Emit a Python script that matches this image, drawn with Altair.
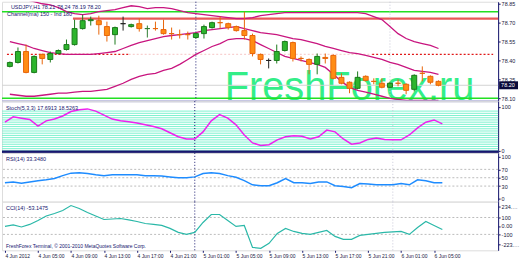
import json
import altair as alt
import pandas as pd

# ---------------- data ----------------
idx = list(range(54))
opens = [78.353, 78.384, 78.471, 78.305, 78.448, 78.408, 78.455, 78.487, 78.526, 78.653,
         78.716, 78.716, 78.669, 78.605, 78.692, 78.669, 78.692, 78.653, 78.653, 78.645,
         78.613, 78.605, 78.605, 78.582, 78.613, 78.661, 78.700, 78.692, 78.669, 78.637,
         78.598, 78.448, 78.400, 78.400, 78.479, 78.542, 78.416, 78.408, 78.369, 78.424,
         78.440, 78.266, 78.227, 78.179, 78.274, 78.234, 78.219, 78.187, 78.219, 78.211,
         78.171, 78.298, 78.274, 78.234]
highs = [78.392, 78.503, 78.526, 78.440, 78.455, 78.471, 78.487, 78.566, 78.724, 78.763,
         78.748, 78.755, 78.708, 78.669, 78.748, 78.692, 78.732, 78.677, 78.708, 78.724,
         78.661, 78.645, 78.629, 78.621, 78.684, 78.708, 78.748, 78.700, 78.677, 78.787,
         78.613, 78.455, 78.416, 78.526, 78.558, 78.550, 78.432, 78.416, 78.455, 78.455,
         78.448, 78.298, 78.234, 78.313, 78.282, 78.258, 78.258, 78.227, 78.250, 78.219,
         78.290, 78.353, 78.282, 78.242]
lows = [78.345, 78.376, 78.298, 78.298, 78.369, 78.384, 78.448, 78.479, 78.518, 78.645,
        78.677, 78.605, 78.550, 78.526, 78.637, 78.661, 78.629, 78.582, 78.637, 78.605,
        78.566, 78.574, 78.566, 78.574, 78.574, 78.653, 78.653, 78.645, 78.629, 78.566,
        78.432, 78.369, 78.337, 78.376, 78.471, 78.392, 78.392, 78.290, 78.290, 78.376,
        78.250, 78.211, 78.140, 78.171, 78.234, 78.211, 78.179, 78.179, 78.195, 78.132,
        78.155, 78.234, 78.211, 78.195]
closes = [78.384, 78.471, 78.305, 78.432, 78.416, 78.455, 78.479, 78.526, 78.653, 78.716,
          78.724, 78.684, 78.598, 78.661, 78.692, 78.684, 78.653, 78.653, 78.653, 78.613,
          78.613, 78.605, 78.605, 78.613, 78.669, 78.700, 78.700, 78.661, 78.637, 78.598,
          78.455, 78.408, 78.400, 78.471, 78.550, 78.416, 78.416, 78.369, 78.432, 78.416,
          78.258, 78.219, 78.179, 78.266, 78.242, 78.234, 78.187, 78.219, 78.219, 78.163,
          78.282, 78.298, 78.227, 78.203]
kinds = ["up", "up", "down", "up", "down", "up", "up", "up", "up", "up",
         "up", "down", "down", "up", "dark", "up", "down", "gcross", "down", "down",
         "down", "down", "down", "up", "up", "up", "down", "down", "down", "down",
         "down", "down", "dark", "up", "up", "down", "down", "down", "up", "down",
         "down", "down", "down", "up", "down", "down", "down", "up", "down", "down",
         "up", "down", "down", "down"]
upper = [78.929, 78.905, 78.882, 78.866, 78.850, 78.842, 78.819, 78.787, 78.771, 78.763,
         78.771, 78.787, 78.795, 78.803, 78.819, 78.834, 78.827, 78.811, 78.819, 78.819,
         78.811, 78.795, 78.779, 78.771, 78.763, 78.755, 78.748, 78.740, 78.732, 78.732,
         78.740, 78.755, 78.763, 78.771, 78.779, 78.779, 78.779, 78.779, 78.779, 78.779,
         78.779, 78.779, 78.779, 78.779, 78.771, 78.748, 78.724, 78.669, 78.613, 78.574,
         78.550, 78.534, 78.519, 78.495]
middle = [78.550, 78.534, 78.519, 78.495, 78.479, 78.463, 78.455, 78.448, 78.448, 78.448,
          78.448, 78.455, 78.463, 78.471, 78.495, 78.519, 78.542, 78.558, 78.574, 78.590,
          78.598, 78.605, 78.613, 78.621, 78.637, 78.645, 78.653, 78.661, 78.669, 78.653,
          78.637, 78.621, 78.613, 78.605, 78.590, 78.574, 78.566, 78.550, 78.534, 78.511,
          78.495, 78.479, 78.463, 78.455, 78.440, 78.424, 78.408, 78.384, 78.369, 78.345,
          78.321, 78.313, 78.305, 78.290]
lower = [78.132, 78.124, 78.116, 78.116, 78.124, 78.132, 78.140, 78.140, 78.148, 78.155,
         78.155, 78.163, 78.171, 78.195, 78.219, 78.250, 78.274, 78.290, 78.298, 78.321,
         78.337, 78.369, 78.408, 78.448, 78.479, 78.511, 78.534, 78.566, 78.574, 78.574,
         78.558, 78.526, 78.495, 78.463, 78.432, 78.416, 78.400, 78.384, 78.369, 78.345,
         78.290, 78.234, 78.187, 78.163, 78.148, 78.132, 78.116, 78.100, 78.092, 78.084,
         78.084, 78.084, 78.084, 78.084]
stoch = [65, 77, 74, 71, 56, 68, 72, 79, 89, 93,
         95, 90, 81, 72, 68, 66, 63, 59, 55, 50,
         41, 32, 27, 27, 43, 68, 82, 74, 59, 36,
         18, 12, 14, 25, 32, 34, 33, 27, 32, 47,
         43, 27, 15, 18, 26, 29, 26, 25, 25, 36,
         52, 65, 70, 61]
rsi = [38, 40, 37, 40, 43, 45, 48, 55, 61, 62,
       60, 57, 55, 57, 57, 57, 57, 55, 55, 54,
       52, 50, 50, 52, 60, 62, 60, 55, 51, 43,
       33, 31, 31, 38, 48, 38, 38, 36, 40, 40,
       31, 29, 26, 36, 35, 33, 33, 33, 36, 33,
       45, 43, 38, 38]
cci = [-6, 12, -12, 18, 65, 118, 147, 182, 241, 206,
       159, 118, 76, 82, 88, 71, 53, 29, 18, 6,
       -29, -76, -100, -76, 41, 135, 135, 65, -6, 6,
       -253, -265, -206, -88, -29, -65, -88, -100, -76, -53,
       -124, -159, -159, -112, -100, -88, -76, -71, -65, -100,
       -18, 53, 6, -41]

time_ticks = [0, 4, 8, 12, 16, 20, 24, 28, 32, 36, 40, 44, 48, 52]
time_labels = ["4 Jun 2012", "4 Jun 05:00", "4 Jun 09:00", "4 Jun 13:00", "4 Jun 17:00",
               "4 Jun 21:00", "5 Jun 01:00", "5 Jun 05:00", "5 Jun 09:00", "5 Jun 13:00",
               "5 Jun 17:00", "5 Jun 21:00", "6 Jun 01:00", "6 Jun 05:00"]
day_sep = [23]
day_sep2 = [47]

price_ticks = [78.10, 78.25, 78.40, 78.55, 78.70, 78.85]
green_levels = [78.787, 78.100]
red_level = [78.732]
red_level_start = [7.8]
dotted_level = [78.448]
dotted_start = [-0.36, 14.7, 44.8]
dotted_end = [14.7, 44.8, 59.76]
dotted_kind = ["strong", "faint", "strong"]
bid = [78.203]
bid_label = ["78.20"]
stoch_levels = [0, 5, 10, 15, 20, 25, 30, 35, 40, 45, 50, 55, 60, 65, 70, 75, 80, 85, 90]
stoch_ticks = [0, 100]
rsi_levels = [30, 50, 70]
rsi_ticks = [0, 30, 50, 70, 100]
cci_levels = [100, -100]
cci_ticks = [-223.0181, -100, 0, 100, 234.6845]

title_main = ["USDJPY,H1  78.21 78.24 78.19 78.20", "Channel(ma) 150 - Ind 180"]
title_stoch = ["Stoch(5,3,3) 17.6913 18.5263"]
title_rsi = ["RSI(14) 33.3480"]
title_cci = ["CCI(14) -53.1475"]
copyright_txt = ["FreshForex Terminal, © 2001-2010 MetaQuotes Software Corp."]
watermark = ["FreshForex.ru"]

# ---------------- style ----------------
W = 499
NAVY = "#16166E"
FONT = "Liberation Sans"

df = pd.DataFrame({"i": idx, "open": opens, "high": highs, "low": lows, "close": closes,
                   "kind": kinds, "upper": upper, "middle": middle, "lower": lower,
                   "stoch": stoch, "rsi": rsi, "cci": cci})

xscale = alt.Scale(domain=[-0.36, 59.76], nice=False, zero=False)
X = alt.X("i:Q", scale=xscale, axis=None)


def raxis(values, **kw):
    return alt.Axis(orient="right", values=values, labelFontSize=5.5, tickSize=2,
                    labelPadding=1, grid=False, title=None, domainColor=NAVY,
                    tickColor=NAVY, labelColor="#202040", labelOverlap=False,
                    labelFlush=False, labelLimit=19, **kw)


def separators(xenc):
    a = alt.Chart(pd.DataFrame({"i": day_sep})).mark_rule(
        color=NAVY, strokeDash=[1, 2], strokeWidth=1).encode(x=xenc)
    b = alt.Chart(pd.DataFrame({"i": day_sep2})).mark_rule(
        color="#C8C8D8", strokeDash=[1, 2], strokeWidth=1).encode(x=xenc)
    return [a, b]


def label(txt, xpx, ypx, size=5.5, color=NAVY):
    return alt.Chart(pd.DataFrame({"t": txt})).mark_text(
        align="left", baseline="middle", fontSize=size, color=color, font=FONT
    ).encode(x=alt.value(xpx), y=alt.value(ypx), text="t:N")


# ---------------- main panel ----------------
ys_main = alt.Scale(domain=[78.077, 78.866], nice=False, zero=False)
ax_main = raxis(price_ticks, format=".2f")

wm = alt.Chart(pd.DataFrame({"t": watermark})).mark_text(
    align="left", baseline="alphabetic", fontSize=40, font=FONT, color="#33EE88"
).encode(x=alt.value(224), y=alt.value(99), text="t:N")

bid_line = alt.Chart(pd.DataFrame({"p": bid})).mark_rule(color="#D4D4D4", strokeWidth=1).encode(
    y=alt.Y("p:Q", scale=ys_main, axis=ax_main))

dot_df = pd.DataFrame({"s": dotted_start, "e": dotted_end, "k": dotted_kind,
                       "p": dotted_level * 3})
dotted = alt.Chart(dot_df).mark_rule(strokeDash=[2, 2], strokeWidth=1.2).encode(
    x=alt.X("s:Q", scale=xscale, axis=None), x2="e:Q",
    y=alt.Y("p:Q", scale=ys_main, axis=ax_main),
    color=alt.Color("k:N", scale=alt.Scale(domain=["strong", "faint"],
                                           range=["#E01818", "#F8D0D0"]), legend=None))

greens = alt.Chart(pd.DataFrame({"p": green_levels})).mark_rule(
    color="#22E022", strokeWidth=1.6).encode(y=alt.Y("p:Q", scale=ys_main, axis=ax_main))

red = alt.Chart(pd.DataFrame({"p": red_level, "s": red_level_start})).mark_rule(
    color="#E85858", strokeWidth=2.2).encode(
    x=alt.X("s:Q", scale=xscale, axis=None), x2=alt.value(W),
    y=alt.Y("p:Q", scale=ys_main, axis=ax_main))

bands = alt.Chart(df).transform_fold(["upper", "middle", "lower"], as_=["band", "val"]).mark_line(
    color="#C8157F", strokeWidth=1.3, clip=True).encode(
    x=X, y=alt.Y("val:Q", scale=ys_main, axis=ax_main), detail="band:N")

kind_dom = ["up", "down", "gcross", "dark"]
fill_sc = alt.Scale(domain=kind_dom, range=["#2DB52D", "#FF8C14", "#2E7D32", "#222222"])
stroke_sc = alt.Scale(domain=kind_dom, range=["#1B7A1B", "#E8650A", "#2E7D32", "#222222"])

wicks = alt.Chart(df).mark_rule(strokeWidth=1, clip=True).encode(
    x=X, y=alt.Y("low:Q", scale=ys_main, axis=ax_main), y2="high:Q",
    stroke=alt.Stroke("kind:N", scale=stroke_sc, legend=None))
bodies = alt.Chart(df).mark_bar(size=5, strokeWidth=1, clip=True).encode(
    x=X, y=alt.Y("open:Q", scale=ys_main, axis=ax_main), y2="close:Q",
    fill=alt.Fill("kind:N", scale=fill_sc, legend=None),
    stroke=alt.Stroke("kind:N", scale=stroke_sc, legend=None))

bid_box = alt.Chart(pd.DataFrame({"p": bid, "t": bid_label})).mark_rect(
    color="#0A0A3A", clip=False, height=8, width=19).encode(
    x=alt.value(509.5), y=alt.Y("p:Q", scale=ys_main, axis=ax_main))
bid_txt = alt.Chart(pd.DataFrame({"p": bid, "t": bid_label})).mark_text(
    color="white", fontSize=5.5, font=FONT, align="left", baseline="middle").encode(
    x=alt.value(502), y=alt.Y("p:Q", scale=ys_main, axis=ax_main), text="t:N")

main_sep = alt.Chart(pd.DataFrame({"p": [0]})).mark_rule(color="#B4B4D8", strokeWidth=2).encode(
    x=alt.value(0), x2=alt.value(W), y=alt.value(100))

main = alt.layer(
    wm, bid_line, dotted, greens, red, *separators(X), bands, wicks, bodies,
    label(title_main[:1], 9, 5), label(title_main[1:], 5, 12), bid_box, bid_txt, main_sep
).properties(width=W, height=100)

# ---------------- stochastic panel ----------------
ys2 = alt.Scale(domain=[-4.5, 112.5], nice=False, zero=False)
ax2 = raxis(stoch_ticks, format="d")
lv2 = alt.Chart(pd.DataFrame({"v": stoch_levels})).mark_rule(color="#7CF2CF", strokeWidth=1).encode(
    y=alt.Y("v:Q", scale=ys2, axis=ax2))
st_line = alt.Chart(df).mark_line(color="#EE22EE", strokeWidth=1.5, clip=True).encode(
    x=X, y=alt.Y("stoch:Q", scale=ys2, axis=ax2))
thick = alt.Chart(pd.DataFrame({"p": [0]})).mark_rule(color=NAVY, strokeWidth=3).encode(
    x=alt.value(0), x2=alt.value(W), y=alt.value(51))
p2 = alt.layer(lv2, *separators(X), st_line, label(title_stoch, 4, 7), thick).properties(
    width=W, height=52)

# ---------------- RSI panel ----------------
ys3 = alt.Scale(domain=[-7.1, 109.5], nice=False, zero=False)
ax3 = raxis(rsi_ticks, format="d")
lv3 = alt.Chart(pd.DataFrame({"v": rsi_levels})).mark_rule(
    color="#BBBBBB", strokeDash=[2, 2], strokeWidth=1).encode(y=alt.Y("v:Q", scale=ys3, axis=ax3))
rsi_line = alt.Chart(df).mark_line(color="#1E8CFF", strokeWidth=1.5, clip=True).encode(
    x=X, y=alt.Y("rsi:Q", scale=ys3, axis=ax3))
p3 = alt.layer(lv3, *separators(X), rsi_line, label(title_rsi, 4, 6)).properties(
    width=W, height=49)

# ---------------- CCI panel ----------------
ys4 = alt.Scale(domain=[-288, 288], nice=False, zero=False)
ax4 = raxis(cci_ticks, labelExpr="datum.value == 0 ? '0.00' : toString(datum.value)")
x_axis = alt.Axis(values=time_ticks,
                  labelExpr=json.dumps(time_labels) + "[round(datum.value / 4)]",
                  labelAlign="left", labelFontSize=5, labelPadding=1, tickSize=2,
                  domain=False, labelFlush=False, labelOverlap=False, grid=False,
                  title=None, tickColor=NAVY, labelColor="#202040")
X4 = alt.X("i:Q", scale=xscale, axis=x_axis)
lv4 = alt.Chart(pd.DataFrame({"v": cci_levels})).mark_rule(
    color="#BBBBBB", strokeDash=[2, 2], strokeWidth=1).encode(y=alt.Y("v:Q", scale=ys4, axis=ax4))
cci_line = alt.Chart(df).mark_line(color="#2AB8A8", strokeWidth=1.2, clip=True).encode(
    x=X4, y=alt.Y("cci:Q", scale=ys4, axis=ax4))
p4 = alt.layer(lv4, *separators(X4), cci_line, label(title_cci, 4, 6),
               label(copyright_txt, 4, 45, size=5)).properties(width=W, height=49)

chart = alt.vconcat(main, p2, p3, p4, spacing=0, bounds="flush").properties(
    padding=0, background="white"
).configure_view(stroke=NAVY, strokeWidth=1).configure(font=FONT)

chart.save("out.html", embed_options={"renderer": "svg", "actions": False})
